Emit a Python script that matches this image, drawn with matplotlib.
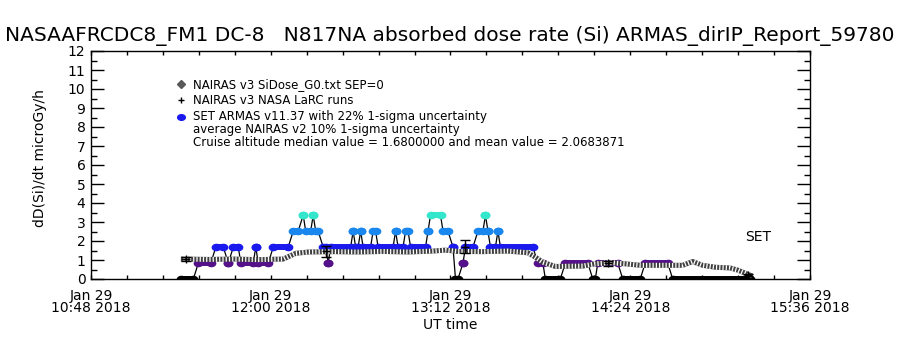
import matplotlib
matplotlib.use("Agg")
import matplotlib.pyplot as plt
import matplotlib.dates as mdates
import matplotlib.ticker as ticker
from matplotlib.path import Path
import pandas as pd

DAY = "2018-01-29 "

# ARMAS quantized dose rate runs (UT start, UT end, level in microGy/h)
armas_start = ["11:24", "11:31", "11:38", "11:43", "11:45", "11:48", "11:54", "11:55",
               "12:01", "12:09", "12:13", "12:14", "12:17", "12:18", "12:21", "12:23",
               "12:24", "12:33", "12:34", "12:36", "12:37", "12:41", "12:43", "12:50",
               "12:51", "12:54", "12:56", "13:03", "13:04", "13:09", "13:13", "13:14",
               "13:17", "13:18", "13:23", "13:26", "13:27", "13:28", "13:31", "13:32",
               "13:47", "13:50", "13:58", "14:09", "14:11", "14:21", "14:30", "14:41"]
armas_end = ["11:29", "11:36", "11:41", "11:43", "11:47", "11:53", "11:54", "11:59",
             "12:07", "12:11", "12:13", "12:16", "12:17", "12:19", "12:22", "12:23",
             "12:32", "12:33", "12:35", "12:36", "12:40", "12:42", "12:49", "12:50",
             "12:53", "12:55", "13:02", "13:03", "13:08", "13:11", "13:13", "13:15",
             "13:17", "13:21", "13:25", "13:26", "13:27", "13:30", "13:31", "13:45",
             "13:49", "13:56", "14:07", "14:10", "14:19", "14:28", "14:39", "15:12"]
armas_level = [0.0, 0.84, 1.68, 0.84, 1.68, 0.84, 1.68, 0.84,
               1.68, 2.52, 3.36, 2.52, 3.36, 2.52, 1.68, 0.84,
               1.68, 2.52, 1.68, 2.52, 1.68, 2.52, 1.68, 2.52,
               1.68, 2.52, 1.68, 2.52, 3.36, 2.52, 1.68, 0.0,
               0.84, 1.68, 2.52, 3.36, 2.52, 1.68, 2.52, 1.68,
               0.84, 0.0, 0.84, 0.0, 0.84, 0.0, 0.84, 0.0]
level_colors = {0.0: "black", 0.84: "#55118a", 1.68: "#1a1aee",
                2.52: "#1a87ee", 3.36: "#33e6cc"}

# NAIRAS v3 SiDose_G0 model along the flight
nairas_time = ["11:25", "11:35", "11:45", "11:55", "12:05", "12:10", "12:15", "12:25",
               "12:35", "12:45", "12:55", "13:05", "13:10", "13:15", "13:25", "13:35",
               "13:43", "13:46", "13:49", "13:54", "14:05", "14:10", "14:16", "14:22",
               "14:28", "14:45", "14:49", "14:53", "14:58", "15:04", "15:07", "15:12"]
nairas_dose = [1.05, 1.03, 1.05, 1.02, 1.05, 1.35, 1.42, 1.44,
               1.42, 1.45, 1.42, 1.47, 1.52, 1.45, 1.44, 1.47,
               1.38, 1.15, 0.88, 0.66, 0.68, 0.80, 0.86, 0.80,
               0.72, 0.72, 0.92, 0.72, 0.62, 0.58, 0.47, 0.20]

# NAIRAS v3 NASA LaRC runs with uncertainty
larc_time = ["11:26", "12:22", "13:18", "14:15", "15:11"]
larc_dose = [1.05, 1.45, 1.70, 0.82, 0.20]
larc_err = [0.12, 0.30, 0.33, 0.12, 0.05]

xticks = ["10:48", "12:00", "13:12", "14:24", "15:36"]


def ut(s):
    return pd.to_datetime([DAY + t for t in s])


# wide oval symbol like the IDL user symbol
circ = Path.unit_circle()
oval = Path(circ.vertices * [1.35, 1.0], circ.codes)

fig = plt.figure(figsize=(9, 3.5), dpi=100)
ax = fig.add_axes([91 / 900, 71 / 350, 719 / 900, 228 / 350])

t0 = ut(armas_start)
t1 = ut(armas_end)

# thin black connectors between consecutive ARMAS samples
cx, cy = [], []
for a, b, v in zip(t0, t1, armas_level):
    cx += [a, b]
    cy += [v, v]
ax.plot(cx, cy, color="black", lw=0.9, zorder=2)

# colored ARMAS blobs
for a, b, v in zip(t0, t1, armas_level):
    c = level_colors[v]
    ax.plot([a, b], [v, v], color=c, lw=4.3, solid_capstyle="butt", zorder=3)
    ax.plot([a, b], [v, v], ls="none", marker=oval, color=c, ms=6, mec=c, zorder=3)

# NAIRAS model: textured gray band
tn = ut(nairas_time)
ax.plot(tn, nairas_dose, color="0.25", lw=3.6, zorder=4)
ax.plot(tn, nairas_dose, color="white", lw=3.6, ls=(0, (0.25, 0.4)), zorder=4)

# LaRC runs with error bars
ax.errorbar(ut(larc_time), larc_dose, yerr=larc_err, fmt="+", color="black",
            ms=6, lw=1, capsize=3.5, zorder=5)

ax.set_xlim(ut(["10:48"])[0], ut(["15:36"])[0])
ax.set_ylim(0, 12)
ax.xaxis.set_major_locator(ticker.FixedLocator(mdates.date2num(ut(xticks))))
ax.xaxis.set_minor_locator(ticker.MultipleLocator(14.4 / 1440))
ax.xaxis.set_major_formatter(mdates.DateFormatter("%b %d\n%H:%M %Y"))
ax.yaxis.set_major_locator(ticker.MultipleLocator(1))
ax.yaxis.set_minor_locator(ticker.MultipleLocator(0.5))
ax.tick_params(axis="x", which="both", direction="in", length=3, width=1,
               top=True, pad=7, labelsize=10)
ax.tick_params(axis="y", which="major", direction="in", length=9.5, width=1,
               right=True, pad=4, labelsize=10)
ax.tick_params(axis="y", which="minor", direction="in", length=4.5, width=1,
               right=True)
for lab in ax.get_xticklabels():
    lab.set_linespacing(0.85)
for s in ax.spines.values():
    s.set_linewidth(1)

# legend-like annotations
tr = ax.transAxes
ax.plot([0.125], [0.855], "D", ms=4, color="0.35", transform=tr, clip_on=False)
ax.plot([0.125], [0.785], "+", ms=5, color="black", transform=tr, clip_on=False)
ax.plot([0.125], [0.712], ls="none", marker=oval, ms=5.5, color="#1a1aee",
        transform=tr, clip_on=False)
fs = 8.5
ax.text(0.142, 0.855, "NAIRAS v3 SiDose_G0.txt SEP=0", fontsize=fs, va="center", transform=tr)
ax.text(0.142, 0.785, "NAIRAS v3 NASA LaRC runs", fontsize=fs, va="center", transform=tr)
ax.text(0.142, 0.712, "SET ARMAS v11.37 with 22% 1-sigma uncertainty", fontsize=fs,
        va="center", transform=tr)
ax.text(0.142, 0.655, "average NAIRAS v2 10% 1-sigma uncertainty", fontsize=fs,
        va="center", transform=tr)
ax.text(0.142, 0.598, "Cruise altitude median value = 1.6800000 and mean value = 2.0683871",
        fontsize=fs, va="center", transform=tr)
ax.text(0.91, 0.184, "SET", fontsize=10, va="center", transform=tr)

fig.text(0.006, 0.897, "NASAAFRCDC8_FM1 DC-8   N817NA absorbed dose rate (Si) "
         "ARMAS_dirIP_Report_59780", fontsize=14.5, va="center", ha="left")
fig.text(0.044, 0.547, "dD(Si)/dt microGy/h", rotation=90, fontsize=10,
         va="center", ha="center")
fig.text(0.5, 0.071, "UT time", fontsize=10, va="center", ha="center")

fig.savefig("out.png", dpi=100)
